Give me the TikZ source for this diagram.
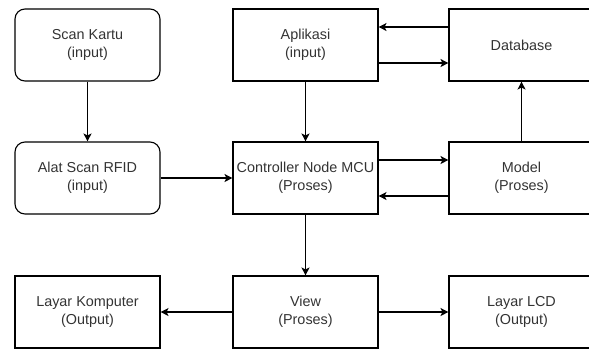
\documentclass[tikz,border=0pt]{standalone}
\usepackage{fontspec}
\setmainfont{Liberation Sans}
\usetikzlibrary{positioning,arrows.meta}
\definecolor{txtgray}{RGB}{51,51,51}
\tikzset{
  box/.style={draw,line width=1.1pt,minimum width=145pt,minimum height=72pt,align=center,
    font=\fontsize{14.4}{18}\selectfont,text=txtgray,inner sep=0pt},
  rbox/.style={box,rounded corners=10pt},
  arr/.style={-{Stealth[length=8pt,width=8pt,inset=2pt]},line width=1.1pt}
}
\begin{document}
\begin{tikzpicture}[x=1pt,y=-1pt]
    \useasboundingbox (0,0) rectangle (589,349);
    % top row
    \node[rbox] (S) at (87.5,45) {Scan Kartu\\(input)};
    \node[box] (A) at (305.5,45) {Aplikasi\\(input)};
    \node[box] (D) at (521.5,45) {Database};
    % middle row
    \node[rbox] (R) at (87.5,178) {Alat Scan RFID\\(input)};
    \node[box] (C) at (305.5,178) {Controller Node MCU\\(Proses)};
    \node[box] (M) at (521.5,178) {Model\\(Proses)};
    % bottom row
    \node[box] (K) at (87.5,312) {Layar Komputer\\(Output)};
    \node[box] (V) at (305.5,312) {View\\(Proses)};
    \node[box] (L) at (521.5,312) {Layar LCD\\(Output)};
    \draw[arr] (S) -- (R);
    \draw[arr] (R) -- (C);
    \draw[arr] (A) -- (C);
    \draw[arr] ([yshift=18pt]D.west) -- ([yshift=18pt]A.east);
    \draw[arr] ([yshift=-18pt]A.east) -- ([yshift=-18pt]D.west);
    \draw[arr] (M) -- (D);
    \draw[arr] ([yshift=18pt]C.east) -- ([yshift=18pt]M.west);
    \draw[arr] ([yshift=-18pt]M.west) -- ([yshift=-18pt]C.east);
    \draw[arr] (C) -- (V);
    \draw[arr] (V) -- (K);
    \draw[arr] (V) -- (L);
  \end{tikzpicture}
\end{document}
